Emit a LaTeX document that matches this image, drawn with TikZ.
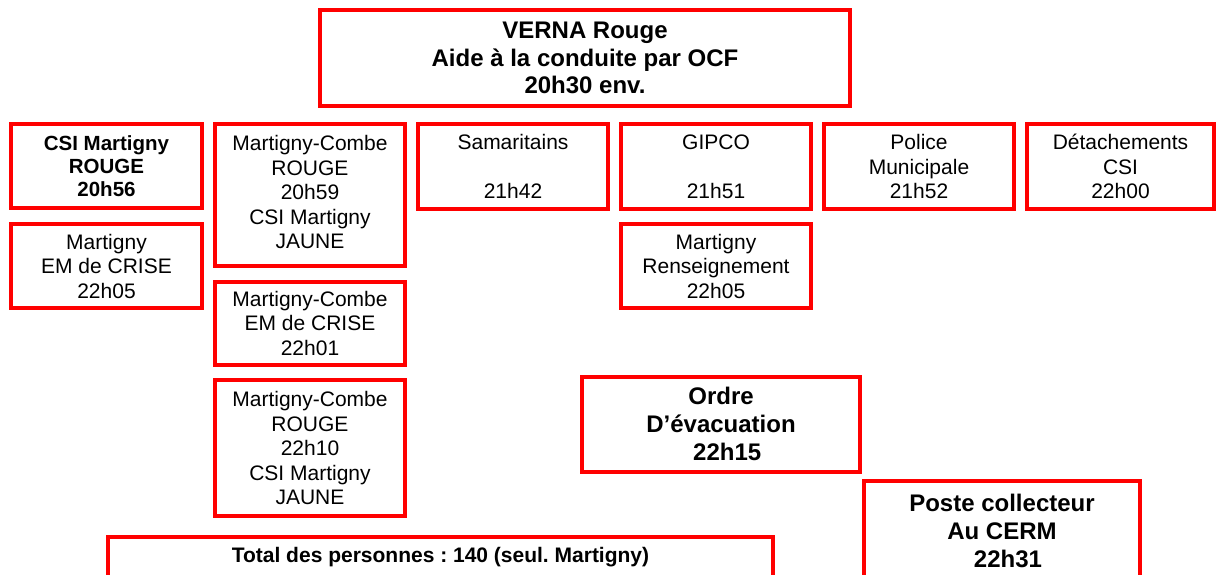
\documentclass[tikz,border=0pt]{standalone}
\usepackage{fontspec}
\setmainfont{Liberation Sans}
\frenchspacing
\definecolor{boxred}{RGB}{255,0,0}
\tikzset{
  box/.style={draw=boxred, line width=4pt, rectangle, inner sep=0pt, align=center, text=black},
  reg/.style={box, font=\fontsize{21}{24.5}\selectfont},
  bigb/.style={box, font=\bfseries\fontsize{24}{27.8}\selectfont},
  midb/.style={box, font=\bfseries\fontsize{20.5}{23.3}\selectfont},
  colbox/.style={minimum width=190pt, minimum height=84pt}
}
\begin{document}
\begin{tikzpicture}[x=1pt, y=-1pt]
\clip (0,0) rectangle (1218,575);
\fill[white] (0,0) rectangle (1218,575);

% header
\node[bigb, minimum width=530pt, minimum height=96pt] (verna) at (585,58)
  {VERNA Rouge\\Aide à la conduite par OCF\\20h30 env.};

% first row
\node[midb, colbox, minimum width=191pt] (csi) at (106.5,166)
  {CSI Martigny\\ROUGE\\20h56};
\node[box, minimum width=190pt, minimum height=142pt] (mcr1) at (310,195) {};
\node[reg, draw=none, yshift=3pt] (mcr1txt) at (mcr1.center)
  {Martigny-Combe\\ROUGE\\20h59\\CSI Martigny\\JAUNE};
\node[reg, colbox] (sam) at (513,166.5)
  {Samaritains\\\strut\\21h42};
\node[reg, colbox] (gipco) at (716,166.5)
  {GIPCO\\\strut\\21h51};
\node[reg, colbox] (police) at (919,166.5)
  {Police\\Municipale\\21h52};
\node[reg, colbox, minimum width=187pt] (detach) at (1120.5,166.5)
  {Détachements\\CSI\\22h00};

% second level
\node[reg, colbox, minimum width=191pt] (mem) at (106.5,266)
  {Martigny\\EM de CRISE\\22h05};
\node[reg, colbox] (rens) at (716,266)
  {Martigny\\Renseignement\\22h05};
\node[reg, minimum width=190pt, minimum height=83pt] (mcem) at (310,323)
  {Martigny-Combe\\EM de CRISE\\22h01};
\node[reg, minimum width=190pt, minimum height=136pt] (mcr2) at (310,448)
  {Martigny-Combe\\ROUGE\\22h10\\CSI Martigny\\JAUNE};

% evacuation and collection
\node[bigb, minimum width=278pt, minimum height=95pt] (ordre) at (721,424)
  {Ordre\\D’évacuation\\\hspace*{12.5pt}22h15};
\node[bigb, minimum width=276pt, minimum height=100pt] (poste) at (1002,531)
  {Poste collecteur\\Au CERM\\\hspace*{12pt}22h31};
\node[box, font=\bfseries\fontsize{21}{24}\selectfont, minimum width=665pt, minimum height=40pt] (total) at (440.5,557)
  {Total des personnes : 140 (seul. Martigny)};
\end{tikzpicture}
\end{document}
